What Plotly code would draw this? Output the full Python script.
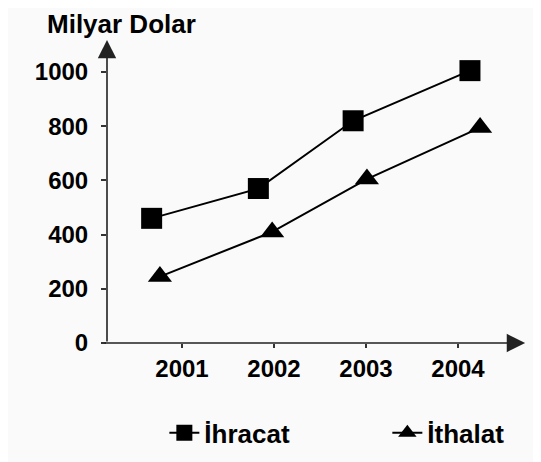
import plotly.graph_objects as go

# Data
years = [2001, 2002, 2003, 2004]
# horizontal positions of the markers as drawn (years, markers are slightly offset from ticks)
ihracat_x = [2000.67, 2001.83, 2002.86, 2004.13]
ithalat_x = [2000.76, 2001.98, 2003.01, 2004.24]
ihracat = [460, 570, 820, 1005]
ithalat = [245, 410, 605, 795]
y_ticks = [0, 200, 400, 600, 800, 1000]
x_tick_labels = ["2001", "2002", "2003", "2004"]

FONT = "Liberation Sans, Arial, sans-serif"
BG = "#fafafa"

fig = go.Figure()
fig.add_trace(go.Scatter(
    x=ihracat_x, y=ihracat, name="İhracat", mode="lines+markers",
    line=dict(color="black", width=2),
    marker=dict(symbol="square", size=21, color="black"),
    cliponaxis=False, legend="legend",
))
fig.add_trace(go.Scatter(
    x=ithalat_x, y=ithalat, name="İthalat", mode="lines+markers",
    line=dict(color="black", width=2),
    marker=dict(symbol="triangle-up", size=21, color="black"),
    cliponaxis=False, legend="legend2",
))

legend_common = dict(
    orientation="h", xanchor="left", y=-0.292, yanchor="middle",
    font=dict(family=FONT, size=26, color="black", weight="bold"),
    bgcolor="rgba(0,0,0,0)", borderwidth=0,
)

fig.update_layout(
    width=533, height=454,
    margin=dict(l=99, r=6, t=27, b=119, autoexpand=False),
    paper_bgcolor=BG, plot_bgcolor=BG,
    font=dict(family=FONT, size=22, color="black"),
    showlegend=True,
    legend=dict(x=0.134, **legend_common),
    legend2=dict(x=0.655, **legend_common),
    xaxis=dict(
        range=[2000.1848, 2004.837], tickvals=years, ticktext=x_tick_labels,
        showgrid=False, zeroline=False, showline=False,
        ticks="outside", ticklen=4, tickwidth=1.5, tickcolor="#333",
        tickfont=dict(family=FONT, size=24, color="black", weight="bold"),
        ticklabelstandoff=0,
    ),
    yaxis=dict(
        range=[0, 1136.5], tickvals=y_ticks,
        showgrid=False, zeroline=False, showline=False,
        ticks="outside", ticklen=5, tickwidth=1.5, tickcolor="#333",
        tickfont=dict(family=FONT, size=24, color="black", weight="bold"),
        ticklabelstandoff=8,
    ),
)

# axis lines with arrowheads
fig.add_annotation(
    x=0.977, y=0, xref="paper", yref="y", ax=-422, ay=0, axref="pixel", ayref="pixel",
    showarrow=True, arrowhead=2, arrowsize=2.3, arrowwidth=1.6, arrowcolor="#222", text="",
)
fig.add_annotation(
    x=0, y=0.984, xref="paper", yref="paper", ax=0, ay=303, axref="pixel", ayref="pixel",
    showarrow=True, arrowhead=2, arrowsize=2.3, arrowwidth=1.6, arrowcolor="#222", text="",
)
fig.add_annotation(
    x=-0.1449, y=1.0357, xref="paper", yref="paper", xanchor="left", yanchor="middle",
    text="<b>Milyar Dolar</b>", showarrow=False,
    font=dict(family=FONT, size=26, color="black"),
)

fig.write_html("out.html")
